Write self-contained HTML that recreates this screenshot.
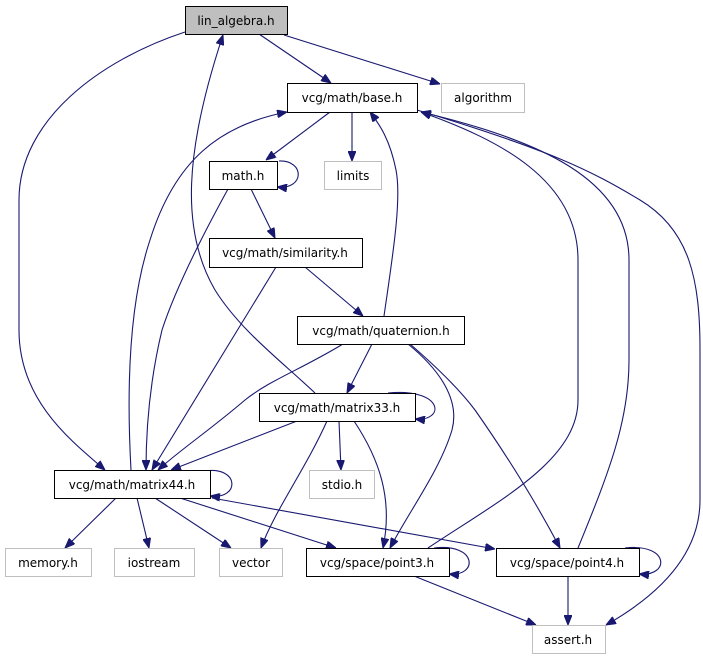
<!DOCTYPE html>
<html><head><meta charset="utf-8"><style>
html,body{margin:0;padding:0;background:#fff;}
svg{display:block;}
text{font-family:"DejaVu Sans","Liberation Sans",sans-serif;font-size:12px;fill:#000;}
</style></head><body>
<svg width="703" height="659" viewBox="0 0 703 659" xmlns="http://www.w3.org/2000/svg">
<defs>
<marker id="a" viewBox="0 0 10 8" refX="10" refY="4" markerWidth="10" markerHeight="8" markerUnits="userSpaceOnUse" orient="auto">
<path d="M0,0 L10,4 L0,8 z" fill="#191970" stroke="#191970"/>
</marker>
</defs>
<g fill="none" stroke="#191970" stroke-width="1.1" marker-end="url(#a)">
<path d="M185,32 C100,60 19,120 19,200 L19,330 C19,400 70,440 105,470"/>
<path d="M259,34 L331,83"/>
<path d="M284,35 L440,84"/>
<path d="M315,393 C280,360 240,330 215,290 C180,230 185,150 223,35"/>
<path d="M131,470 C126,380 130,300 150,240 C175,160 220,125 287,112"/>
<path d="M330,112 L266,160"/>
<path d="M352,112 L352,161"/>
<path d="M279,161 C305,160 305,190 277,187"/>
<path d="M251,189 L275,238"/>
<path d="M228,189 C200,240 175,290 162,330 C150,380 146,430 146,470"/>
<path d="M305,267 L363,316"/>
<path d="M276,267 L152,470"/>
<path d="M384,316 C392,260 402,200 396,170 C390,140 380,125 370,112"/>
<path d="M428,548 C500,500 578,460 578,400 L578,260 C578,180 500,140 421,112"/>
<path d="M578,548 C610,470 629,420 629,360 L629,260 C629,180 540,140 421,112"/>
<path d="M417,110 C550,150 590,170 640,200 C690,230 700,280 700,350 L700,500 C700,560 650,600 606,625"/>
<path d="M343,344 C300,370 270,380 245,400 C210,430 180,450 158,470"/>
<path d="M372,344 L347,393"/>
<path d="M408,344 C440,370 460,400 452,430 C440,470 410,510 390,548"/>
<path d="M410,344 C440,370 460,390 475,410 C510,460 540,510 560,548"/>
<path d="M388,393 C445,388 445,422 415,419"/>
<path d="M297,421 L171,470"/>
<path d="M327,421 C305,470 275,510 261,548"/>
<path d="M339,421 L341,470"/>
<path d="M354,421 C380,460 393,500 383,548"/>
<path d="M205,471 C240,466 240,500 210,496"/>
<path d="M116,498 L65,548"/>
<path d="M137,498 L149,548"/>
<path d="M155,498 L231,548"/>
<path d="M180,498 L336,548"/>
<path d="M212,498 L495,549"/>
<path d="M434,548 C478,543 478,577 449,574"/>
<path d="M625,548 C670,543 670,577 639,574"/>
<path d="M414,576 L536,625"/>
<path d="M568,576 L568,625"/>
</g>
<g stroke-width="1">
<rect x="185.5" y="6.5" width="102" height="28" fill="#bfbfbf" stroke="#000"/>
<rect x="287.5" y="83.5" width="130" height="29" fill="#fff" stroke="#000"/>
<rect x="441.5" y="83.5" width="83" height="29" fill="#fff" stroke="#bfbfbf"/>
<rect x="209.5" y="161.5" width="68" height="28" fill="#fff" stroke="#000"/>
<rect x="324.5" y="161.5" width="57" height="28" fill="#fff" stroke="#bfbfbf"/>
<rect x="209.5" y="238.5" width="153" height="29" fill="#fff" stroke="#000"/>
<rect x="297.5" y="316.5" width="167" height="28" fill="#fff" stroke="#000"/>
<rect x="259.5" y="393.5" width="156" height="28" fill="#fff" stroke="#000"/>
<rect x="54.5" y="470.5" width="156" height="28" fill="#fff" stroke="#000"/>
<rect x="309.5" y="470.5" width="65" height="28" fill="#fff" stroke="#bfbfbf"/>
<rect x="5.5" y="548.5" width="86" height="28" fill="#fff" stroke="#bfbfbf"/>
<rect x="114.5" y="548.5" width="80" height="28" fill="#fff" stroke="#bfbfbf"/>
<rect x="219.5" y="548.5" width="63" height="28" fill="#fff" stroke="#bfbfbf"/>
<rect x="306.5" y="548.5" width="143" height="28" fill="#fff" stroke="#000"/>
<rect x="496.5" y="548.5" width="143" height="28" fill="#fff" stroke="#000"/>
<rect x="532.5" y="625.5" width="73" height="28" fill="#fff" stroke="#bfbfbf"/>
</g>
<g text-anchor="middle">
<text x="236" y="25">lin_algebra.h</text>
<text x="352" y="102">vcg/math/base.h</text>
<text x="483" y="102">algorithm</text>
<text x="243" y="180">math.h</text>
<text x="353" y="180">limits</text>
<text x="285" y="257">vcg/math/similarity.h</text>
<text x="381" y="335">vcg/math/quaternion.h</text>
<text x="337" y="412">vcg/math/matrix33.h</text>
<text x="132" y="489">vcg/math/matrix44.h</text>
<text x="342" y="489">stdio.h</text>
<text x="48" y="567">memory.h</text>
<text x="154" y="567">iostream</text>
<text x="251" y="567">vector</text>
<text x="377" y="567">vcg/space/point3.h</text>
<text x="567" y="567">vcg/space/point4.h</text>
<text x="568" y="644">assert.h</text>
</g>
</svg>
</body></html>
